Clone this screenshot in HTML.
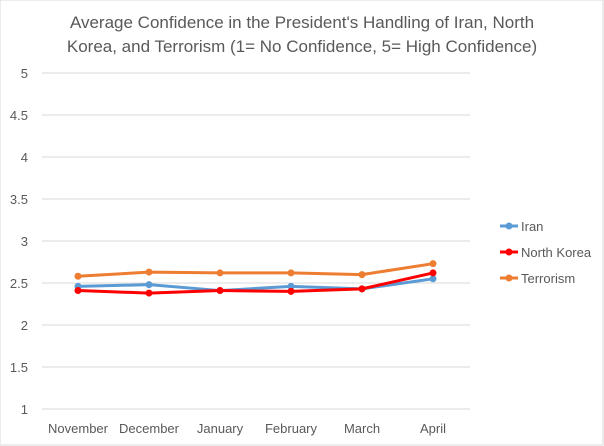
<!DOCTYPE html>
<html><head><meta charset="utf-8"><style>
body{margin:0;background:#fff;font-family:"Liberation Sans",sans-serif}
</style></head><body>
<svg id="c" width="604" height="446" style="display:block">
<rect x="0" y="0" width="603" height="445" fill="#fff" stroke="#d9d9d9"/>
<text x="302" y="28" text-anchor="middle" font-size="17" fill="#595959">Average Confidence in the President's Handling of Iran, North</text>
<text x="302" y="52" text-anchor="middle" font-size="17" fill="#595959">Korea, and Terrorism (1= No Confidence, 5= High Confidence)</text>
</svg>
<script>
const categories=["November","December","January","February","March","April"];
const iran=[2.46,2.48,2.41,2.46,2.43,2.55];
const northKorea=[2.41,2.38,2.41,2.40,2.43,2.62];
const terrorism=[2.58,2.63,2.62,2.62,2.60,2.73];
const yTicks=[1,1.5,2,2.5,3,3.5,4,4.5,5];
const yTickLabels=["1","1.5","2","2.5","3","3.5","4","4.5","5"];
const svg=document.getElementById('c');const NS="http://www.w3.org/2000/svg";
const y=v=>409-(v-1)*84;const x=i=>78+i*71;
function mk(t,a){const e=document.createElementNS(NS,t);for(const k in a)e.setAttribute(k,a[k]);svg.appendChild(e);return e;}
yTicks.forEach((v,i)=>{
 const g=mk('line',{x1:42,x2:470,y1:y(v),y2:y(v),stroke:'#d9d9d9','stroke-width':1});
 
 
 const t=mk('text',{x:28,y:y(v)+5,'text-anchor':'end','font-size':13,fill:'#595959'});t.textContent=yTickLabels[i];
 
 
});
categories.forEach((c,i)=>{
 const t=mk('text',{x:x(i),y:433,'text-anchor':'middle','font-size':13,fill:'#595959'});t.textContent=c;
 
 
});
const series=[["Iran",iran,"#5b9bd5","iran"],["North Korea",northKorea,"#ff0000","north-korea"],["Terrorism",terrorism,"#ed7d31","terrorism"]];
series.forEach(([n,d,col,id],si)=>{
 const p=mk('polyline',{points:d.map((v,i)=>x(i)+','+y(v)).join(' '),fill:'none',stroke:col,'stroke-width':3,'stroke-linejoin':'round'});
 
 
 d.forEach((v,i)=>{const m=mk('circle',{cx:x(i),cy:y(v),r:3.5,fill:col});
  
  });
 const ly=226+si*26;
 const l=mk('line',{x1:500,x2:518,y1:ly,y2:ly,stroke:col,'stroke-width':3});
 
 
 const lc=mk('circle',{cx:509,cy:ly,r:3.5,fill:col});
 
 
 const t=mk('text',{x:521,y:ly+5,'font-size':13,fill:'#595959'});t.textContent=n;
 
 
});
</script>
</body></html>
